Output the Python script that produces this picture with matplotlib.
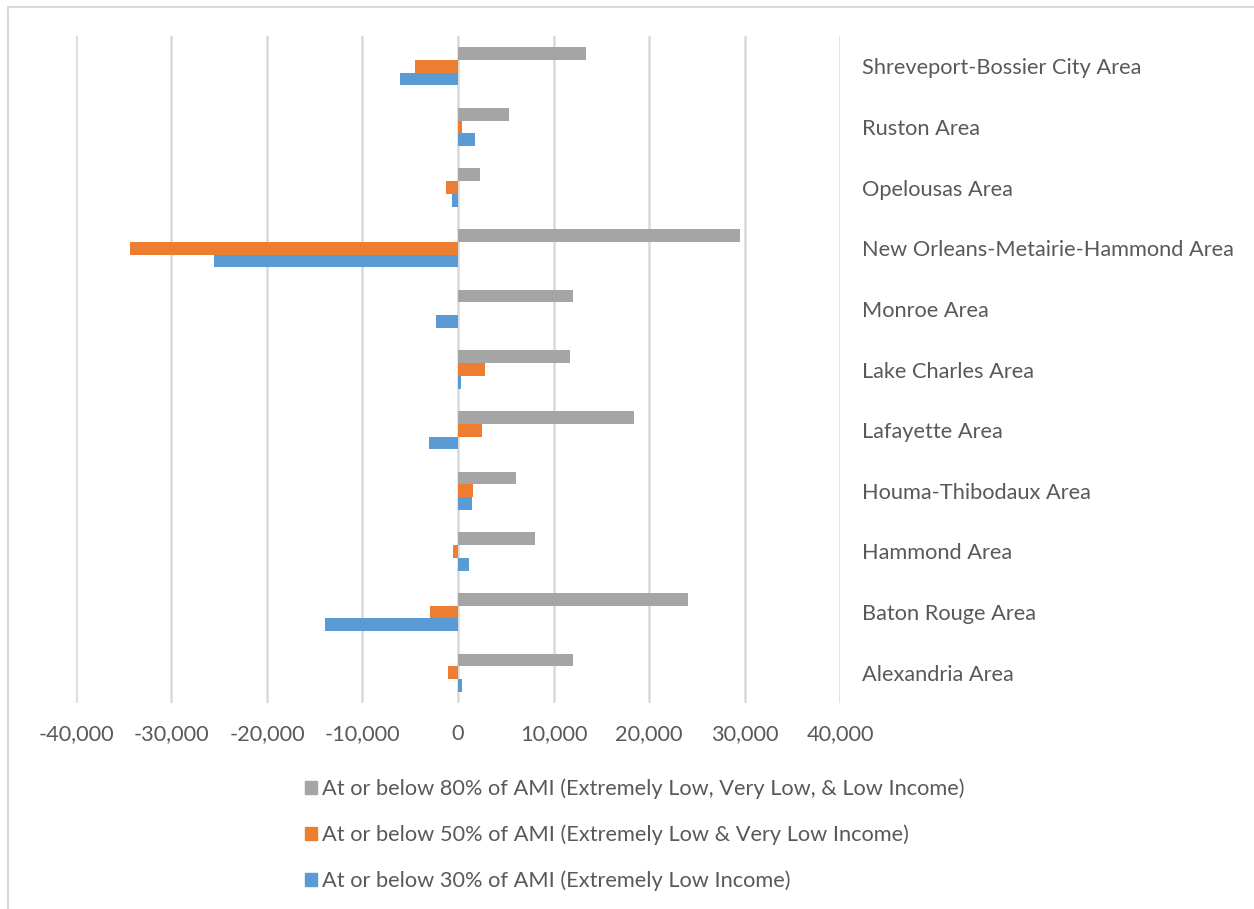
import matplotlib
matplotlib.use('Agg')
import matplotlib.pyplot as plt
import numpy as np
from matplotlib.patches import Rectangle, Patch
from matplotlib.ticker import FuncFormatter

# Areas from bottom to top, as drawn
areas = ['Alexandria Area', 'Baton Rouge Area', 'Hammond Area', 'Houma-Thibodaux Area',
         'Lafayette Area', 'Lake Charles Area', 'Monroe Area',
         'New Orleans-Metairie-Hammond Area', 'Opelousas Area', 'Ruston Area',
         'Shreveport-Bossier City Area']

ami_80 = [12030, 24060, 8040, 6120, 18460, 11680, 12060, 29540, 2270, 5380, 13430]
ami_50 = [-1050, -2900, -490, 1570, 2550, 2830, 0, -34310, -1260, 420, -4545]
ami_30 = [450, -13960, 1150, 1470, -3010, 280, -2270, -25600, -630, 1820, -6120]

labels = ['At or below 80% of AMI (Extremely Low, Very Low, & Low Income)',
          'At or below 50% of AMI (Extremely Low & Very Low Income)',
          'At or below 30% of AMI (Extremely Low Income)']

GRAY, ORANGE, BLUE = '#A5A5A5', '#ED7D31', '#5B9BD5'
TXT = '#595959'
FS = 15.7

plt.rcParams['font.family'] = ['Lato', 'DejaVu Sans']

W, H = 1254, 909
fig = plt.figure(figsize=(W / 100, H / 100), dpi=100)

# light border of the chart area (cut at right and bottom)
fig.patches.append(Rectangle((8 / W, -0.05), 1.2, 1 - 7 / H + 0.05, transform=fig.transFigure,
                             fill=False, edgecolor='#d9d9d9', linewidth=1.5))

ax = fig.add_axes([76 / W, 1 - 703 / H, (840 - 76) / W, (703 - 36) / H])

y = np.arange(len(areas))
h = 0.21
ax.barh(y + h, ami_80, height=h, color=GRAY, zorder=3)
ax.barh(y, ami_50, height=h, color=ORANGE, zorder=3)
ax.barh(y - h, ami_30, height=h, color=BLUE, zorder=3)

ax.set_xlim(-40000, 40000)
ax.set_ylim(-0.5, len(areas) - 0.5)
ax.set_xticks(np.arange(-40000, 40001, 10000))
ax.xaxis.set_major_formatter(FuncFormatter(lambda v, p: f'{int(v):,}'))
ax.grid(axis='x', color='#d9d9d9', linewidth=1.8, zorder=0)
ax.set_yticks(y)
ax.set_yticklabels(areas)
ax.yaxis.tick_right()
ax.tick_params(axis='y', length=0, pad=15.5, labelsize=FS, labelcolor=TXT)
ax.tick_params(axis='x', length=0, pad=15, labelsize=FS, labelcolor=TXT)
for s in ax.spines.values():
    s.set_visible(False)

handles = [Patch(color=GRAY), Patch(color=ORANGE), Patch(color=BLUE)]
leg = fig.legend(handles, labels, loc='upper left', bbox_to_anchor=(294 / W, 1 - 768 / H),
                 frameon=False, fontsize=FS, labelcolor=TXT, handlelength=0.55,
                 handleheight=0.55, handletextpad=0.25, labelspacing=1.16, borderpad=0)

fig.savefig('out.png', dpi=100)
